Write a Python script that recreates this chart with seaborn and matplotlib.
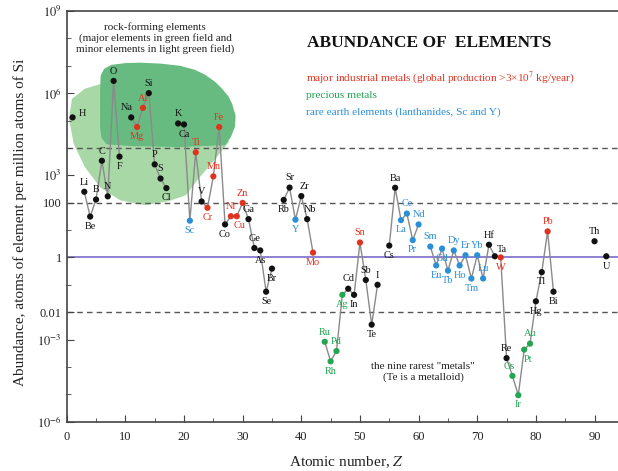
"""Abundance of the elements in Earth's upper crust (atoms per 10^6 atoms of Si)."""

import matplotlib
import numpy as np
import pandas as pd
import seaborn as sns

matplotlib.use("Agg")
import matplotlib.pyplot as plt
from matplotlib.patches import Polygon
from matplotlib.ticker import FixedLocator, NullFormatter, MultipleLocator

symbols = ["H", "Li", "Be", "B", "C", "N", "O", "F", "Na", "Mg", "Al", "Si", "P", "S", "Cl",
           "K", "Ca", "Sc", "Ti", "V", "Cr", "Mn", "Fe", "Co", "Ni", "Cu", "Zn", "Ga", "Ge",
           "As", "Se", "Br", "Rb", "Sr", "Y", "Zr", "Nb", "Mo", "Ru", "Rh", "Pd", "Ag", "Cd",
           "In", "Sn", "Sb", "Te", "I", "Cs", "Ba", "La", "Ce", "Pr", "Nd", "Sm", "Eu", "Gd",
           "Tb", "Dy", "Ho", "Er", "Tm", "Yb", "Lu", "Hf", "Ta", "W", "Re", "Os", "Ir", "Pt",
           "Au", "Hg", "Tl", "Pb", "Bi", "Th", "U"]
atomic_number = [1, 3, 4, 5, 6, 7, 8, 9, 11, 12, 13, 14, 15, 16, 17,
                 19, 20, 21, 22, 23, 24, 25, 26, 27, 28, 29, 30, 31, 32,
                 33, 34, 35, 37, 38, 39, 40, 41, 42, 44, 45, 46, 47, 48,
                 49, 50, 51, 52, 53, 55, 56, 57, 58, 59, 60, 62, 63, 64,
                 65, 66, 67, 68, 69, 70, 71, 72, 73, 74, 75, 76, 77, 78,
                 79, 80, 81, 82, 83, 90, 92]
abundance = [1.3e5, 250, 31, 130, 3400, 170, 2.8e6, 4800, 1.3e5, 5.8e4, 2.9e5, 1e6, 2500, 760, 340,
             7.8e4, 7.2e4, 22, 6900, 110, 65, 910, 5.8e4, 16, 32, 32, 98, 25, 2.2,
             1.8, 0.056, 0.39, 126, 355, 24, 174, 25, 1.5, 8.3e-4, 1.6e-4, 3.8e-4, 0.043, 0.072,
             0.043, 3.5, 0.15, 3.5e-3, 0.10, 2.7, 350, 23, 40, 4.3, 16, 2.5, 0.51, 2.1,
             0.33, 1.8, 0.51, 1.2, 0.17, 1.2, 0.17, 2.9, 1.1, 1.0, 2.1e-4, 4.7e-5, 9.3e-6, 4.3e-4,
             7.1e-4, 0.025, 0.29, 8.9, 0.056, 3.9, 1.1]

industrial = ["Mg", "Al", "Ti", "Cr", "Mn", "Fe", "Ni", "Cu", "Zn", "Mo", "Sn", "W", "Pb"]
precious = ["Ru", "Rh", "Pd", "Ag", "Os", "Ir", "Pt", "Au"]
rare_earth = ["Sc", "Y", "La", "Ce", "Pr", "Nd", "Sm", "Eu", "Gd", "Tb", "Dy", "Ho", "Er",
              "Tm", "Yb", "Lu"]

# outlines of the rock-forming fields, (Z, abundance)
major_field_z = [5.8, 6.4, 7.6, 10.0, 12.5, 16.0, 19.3, 21.8, 23.6, 25.3, 26.5, 27.6, 28.2,
                 28.8, 28.7, 28.0, 27.0, 19.3, 10.8, 6.8, 5.9, 5.7, 5.7]
major_field_y = [4.5e6, 7.8e6, 1.08e7, 1.25e7, 1.3e7, 1.2e7, 1.0e7, 7.2e6, 4.7e6, 2.6e6,
                 1.45e6, 7.5e5, 4.1e5, 1.5e5, 6.0e4, 2.5e4, 1.26e4, 1.07e4, 1.17e4, 1.35e4,
                 2.4e4, 6.0e4, 1.5e6]
minor_field_z = [6.5, 3.1, 0.9, 0.4, 1.2, 3.1, 5.7, 9.1, 13.3, 17.3, 20.3, 22.7, 25.3, 27.8,
                 22.7, 7.4]
minor_field_y = [2.4e6, 1.45e6, 6.2e5, 1.15e5, 1.4e4, 2000, 360, 123, 81, 112, 186, 850,
                 3900, 1.8e4, 2.1e4, 4.9e4]

COLORS = {"other": "#111111", "industrial": "#e0321f", "precious": "#23a552", "ree": "#2a8fd6"}

# label placement: default above the dot
BELOW = ["Be", "F", "Mg", "Cl", "Ca", "Sc", "Cr", "Co", "Cu", "Rb", "Y", "As", "Se", "Br", "Mo",
         "Rh", "Ag", "In", "Te", "Cs", "La", "Pr", "Eu", "Gd", "Tb", "Ho", "Tm", "W", "Ir", "Pt",
         "Hg", "Tl", "Bi", "U"]
SHIFT = {"H": (7, 3), "Na": (-3, 7), "Ta": (5, 5), "Nb": (2, 7), "Cu": (2, -7), "Pt": (3, -7),
         "Os": (-2, 7), "Zr": (2, 7)}


def group_of(sym):
    if sym in industrial:
        return "industrial"
    if sym in precious:
        return "precious"
    if sym in rare_earth:
        return "ree"
    return "other"


df = pd.DataFrame({"symbol": symbols, "Z": atomic_number, "abundance": abundance})
df["group"] = df["symbol"].map(group_of)
df["segment"] = (df["Z"].diff() != 1).cumsum()

W, H = 618, 471
plt.rcParams["font.family"] = ["Liberation Serif", "DejaVu Serif"]
plt.rcParams["mathtext.fontset"] = "stix"

fig = plt.figure(figsize=(W / 100, H / 100), dpi=100, facecolor="white")
ax = fig.add_axes([66.7 / W, 1 - 421.7 / H, 1 - 66.7 / W, (421.7 - 11) / H])
ax.set_yscale("log")
ax.set_xlim(0, 94)
ax.set_ylim(1e-6, 1e9)


def px(x, y):
    return x / W, 1 - y / H


ax.add_patch(Polygon(np.column_stack([minor_field_z, minor_field_y]), closed=True,
                     facecolor="#a8d8a6", edgecolor="none", zorder=0))
ax.add_patch(Polygon(np.column_stack([major_field_z, major_field_y]), closed=True,
                     facecolor="#68bb80", edgecolor="none", zorder=0.5))

for level in [1e4, 100, 0.01]:
    ax.axhline(level, color="#555555", lw=1, ls=(0, (4, 3)), zorder=1)
ax.axhline(1, color="#8d80d0", lw=1.4, zorder=1)

sns.lineplot(data=df, x="Z", y="abundance", units="segment", estimator=None, sort=False,
             color="#8a8a8a", lw=1, ax=ax, zorder=2)
sns.scatterplot(data=df, x="Z", y="abundance", hue="group", palette=COLORS, s=20,
                edgecolor="none", legend=False, ax=ax, zorder=3)

for sym, z, val, grp in zip(df["symbol"], df["Z"], df["abundance"], df["group"]):
    off = SHIFT.get(sym, (0, -7) if sym in BELOW else (0, 7))
    ax.annotate(sym, (z, val), xytext=off, textcoords="offset points", ha="center",
                va="center", fontsize=7.4, color=COLORS[grp], zorder=4)

# axes styling
ax.spines["right"].set_visible(False)
for side in ["left", "bottom", "top"]:
    ax.spines[side].set_color("#444444")
    ax.spines[side].set_linewidth(1.2)

ax.xaxis.set_major_locator(MultipleLocator(10))
ax.xaxis.set_minor_locator(MultipleLocator(5))
ax.set_yticks([1e-6, 1e-3, 1e-2, 1, 100, 1e3, 1e6, 1e9])
ax.set_yticklabels(["$10^{-6}$", "$10^{-3}$", "0.01", "1", "100", "$10^{3}$", "$10^{6}$",
                    "$10^{9}$"])
ax.yaxis.set_minor_locator(FixedLocator([10.0 ** k for k in range(-6, 10)]))
ax.yaxis.set_minor_formatter(NullFormatter())
ax.tick_params(axis="both", which="both", direction="in", colors="#444444", labelcolor="#222222",
               labelsize=9, top=False, right=False)
ax.tick_params(which="major", length=5)
ax.tick_params(which="minor", length=3)
ax.tick_params(axis="x", pad=7)

ax.set_xlabel("")
ax.set_ylabel("")
fig.text(*px(20, 222), "Abundance, atoms of element per million atoms of Si", rotation=90,
         ha="center", va="center", fontsize=11, color="#222222")
fig.text(*px(347, 462), "Atomic number, $Z$", ha="center", va="center", fontsize=11,
         color="#222222")

fig.text(*px(155, 38), "rock-forming elements\n(major elements in green field and\n"
         "minor elements in light green field)", ha="center", va="center", fontsize=8,
         color="#222222", linespacing=1.15)
fig.text(*px(307, 43), "ABUNDANCE OF  ELEMENTS", ha="left", va="center", fontsize=12.5,
         fontweight="bold", color="#111111")
fig.text(*px(306, 78), "major industrial metals (global production >3×10$^{7}$ kg/year)",
         ha="left", va="center", fontsize=8.1, color=COLORS["industrial"])
fig.text(*px(306, 95), "precious metals", ha="left", va="center", fontsize=8.1,
         color=COLORS["precious"])
fig.text(*px(306, 112), "rare earth elements (lanthanides, Sc and Y)", ha="left", va="center",
         fontsize=8.1, color=COLORS["ree"])
fig.text(*px(423, 372), "the nine rarest \"metals\"\n(Te is a metalloid)", ha="center",
         va="center", fontsize=8, color="#222222", linespacing=1.15)

fig.savefig("out.png", dpi=100, facecolor="white")
